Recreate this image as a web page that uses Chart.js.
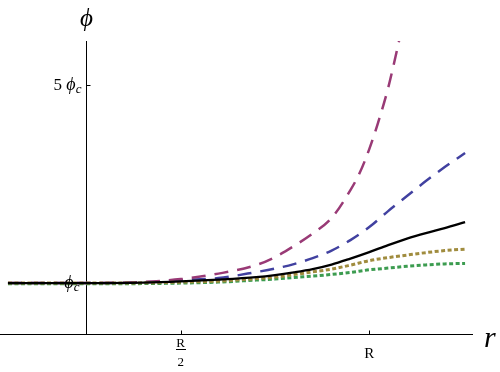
<!DOCTYPE html>
<html>
<head>
<meta charset="utf-8">
<script src="https://cdn.jsdelivr.net/npm/chart.js@4"></script>
<style>
  body { margin: 0; background: #fff; }
  #wrap { width: 500px; height: 372px; }
</style>
</head>
<body>
<div id="wrap"><canvas id="phiChart" width="500" height="372"></canvas></div>
<script>
// r in units of R, phi in units of phi_c
const rGrid = [0.042, 0.25, 0.4, 0.5, 0.6, 0.7, 0.75, 0.8, 0.85, 0.9, 0.95, 1.0, 1.05, 1.1, 1.15, 1.2, 1.254];

const blackPhi = [1.00, 1.00, 1.01, 1.034, 1.071, 1.121, 1.162, 1.217, 1.283, 1.374, 1.496, 1.628, 1.769, 1.90, 2.012, 2.113, 2.235];
const bluePhi  = [1.00, 1.00, 1.014, 1.061, 1.101, 1.223, 1.294, 1.385, 1.506, 1.658, 1.870, 2.134, 2.457, 2.761, 3.065, 3.348, 3.632];
const olivePhi = [1.00, 1.00, 1.005, 1.02, 1.04, 1.091, 1.121, 1.172, 1.227, 1.283, 1.364, 1.455, 1.516, 1.567, 1.617, 1.658, 1.688];
const greenPhi = [0.985, 0.985, 0.99, 1.00, 1.02, 1.061, 1.081, 1.115, 1.142, 1.176, 1.217, 1.269, 1.304, 1.34, 1.368, 1.389, 1.399];

const purpleR   = [0.042, 0.25, 0.4, 0.5, 0.6, 0.7, 0.75, 0.8, 0.85, 0.9, 0.95, 0.975, 1.0, 1.023, 1.05, 1.079];
const purplePhi = [1.00, 1.00, 1.024, 1.081, 1.192, 1.364, 1.526, 1.749, 2.002, 2.316, 2.883, 3.237, 3.713, 4.24, 4.95, 5.899];

const xTickValues = [0.5, 1];
const yTickValues = [1, 5];
const axisCrossR = 0.25;

function pts(xs, ys) {
    return xs.map((x, i) => ({ x: x, y: ys[i] }));
}

const serif = '"Liberation Serif", "DejaVu Serif", serif';

const axesPlugin = {
    id: 'axesPlugin',
    beforeDatasetsDraw(chart) {
        const ctx = chart.ctx;
        const xs = chart.scales.x;
        const ys = chart.scales.y;
        const area = chart.chartArea;
        const ax = Math.round(xs.getPixelForValue(axisCrossR)) + 0.5;
        const ay = Math.round(area.bottom) + 0.5;

        ctx.save();
        ctx.strokeStyle = '#000';
        ctx.lineWidth = 1;
        ctx.beginPath();
        ctx.moveTo(area.left, ay);
        ctx.lineTo(area.right, ay);
        ctx.moveTo(ax, area.top);
        ctx.lineTo(ax, ay);

        xTickValues.forEach(v => {
            const px = Math.round(xs.getPixelForValue(v)) + 0.5;
            ctx.moveTo(px, ay);
            ctx.lineTo(px, ay - 4);
        });
        yTickValues.forEach(v => {
            const py = Math.round(ys.getPixelForValue(v)) + 0.5;
            ctx.moveTo(ax, py);
            ctx.lineTo(ax + 4, py);
        });
        ctx.stroke();
        ctx.restore();
    },
    afterDraw(chart) {
        const ctx = chart.ctx;
        const xs = chart.scales.x;
        const ys = chart.scales.y;
        const area = chart.chartArea;
        const ax = xs.getPixelForValue(axisCrossR);

        ctx.save();
        ctx.fillStyle = '#000';
        ctx.textBaseline = 'alphabetic';

        // axis titles
        ctx.textAlign = 'center';
        ctx.font = 'italic 25px ' + serif;
        ctx.fillText('\u03d5', ax, 26);
        ctx.font = 'italic 30px ' + serif;
        ctx.textAlign = 'left';
        ctx.fillText('r', area.right + 11, 347);

        // x tick labels
        const xHalf = xs.getPixelForValue(xTickValues[0]);
        const xOne = xs.getPixelForValue(xTickValues[1]);
        ctx.textAlign = 'center';
        ctx.font = '13px ' + serif;
        ctx.fillText('R', xHalf, 347);
        ctx.fillRect(Math.round(xHalf) - 5, 349, 10, 1);
        ctx.fillText('2', xHalf, 366);
        ctx.font = '15px ' + serif;
        ctx.fillText('R', xOne, 358);

        // y tick labels
        function phiLabel(prefix, rightX, baseY) {
            ctx.textAlign = 'left';
            ctx.font = '17px ' + serif;
            const wPre = prefix ? ctx.measureText(prefix).width : 0;
            ctx.font = 'italic 18px ' + serif;
            const wPhi = ctx.measureText('\u03d5').width;
            ctx.font = 'italic 13px ' + serif;
            const wC = ctx.measureText('c').width;
            let x = rightX - (wPre + wPhi + wC);
            if (prefix) {
                ctx.font = '17px ' + serif;
                ctx.fillText(prefix, x, baseY);
                x += wPre;
            }
            ctx.font = 'italic 18px ' + serif;
            ctx.fillText('\u03d5', x, baseY);
            x += wPhi;
            ctx.font = 'italic 13px ' + serif;
            ctx.fillText('c', x, baseY + 3);
        }
        phiLabel('5 ', ax - 5, ys.getPixelForValue(yTickValues[1]) + 5);
        phiLabel('', ax - 7, ys.getPixelForValue(yTickValues[0]) + 5);

        ctx.restore();
    }
};

new Chart(document.getElementById('phiChart').getContext('2d'), {
    type: 'line',
    data: {
        datasets: [
            {
                label: 'black',
                data: pts(rGrid, blackPhi),
                borderColor: '#000000',
                borderWidth: 2.3,
                order: 0
            },
            {
                label: 'purple',
                data: pts(purpleR, purplePhi),
                borderColor: '#993a76',
                borderWidth: 2.5,
                borderDash: [14, 9],
                order: 3
            },
            {
                label: 'blue',
                data: pts(rGrid, bluePhi),
                borderColor: '#4141a0',
                borderWidth: 2.5,
                borderDash: [14, 9],
                order: 4
            },
            {
                label: 'olive',
                data: pts(rGrid, olivePhi),
                borderColor: '#a08c3e',
                borderWidth: 3,
                borderDash: [4, 2.5],
                order: 1
            },
            {
                label: 'green',
                data: pts(rGrid, greenPhi),
                borderColor: '#3c9c50',
                borderWidth: 3,
                borderDash: [4, 2.5],
                order: 2
            }
        ]
    },
    options: {
        responsive: false,
        animation: false,
        devicePixelRatio: 1,
        layout: {
            padding: { left: 0, right: 27, top: 41, bottom: 38 }
        },
        elements: {
            point: { radius: 0 },
            line: { cubicInterpolationMode: 'monotone', fill: false, borderCapStyle: 'butt' }
        },
        plugins: {
            legend: { display: false },
            tooltip: { enabled: false }
        },
        scales: {
            x: { type: 'linear', min: 0.0209, max: 1.275, display: false },
            y: { type: 'linear', min: -0.03, max: 5.9, display: false }
        }
    },
    plugins: [axesPlugin]
});
</script>
</body>
</html>
